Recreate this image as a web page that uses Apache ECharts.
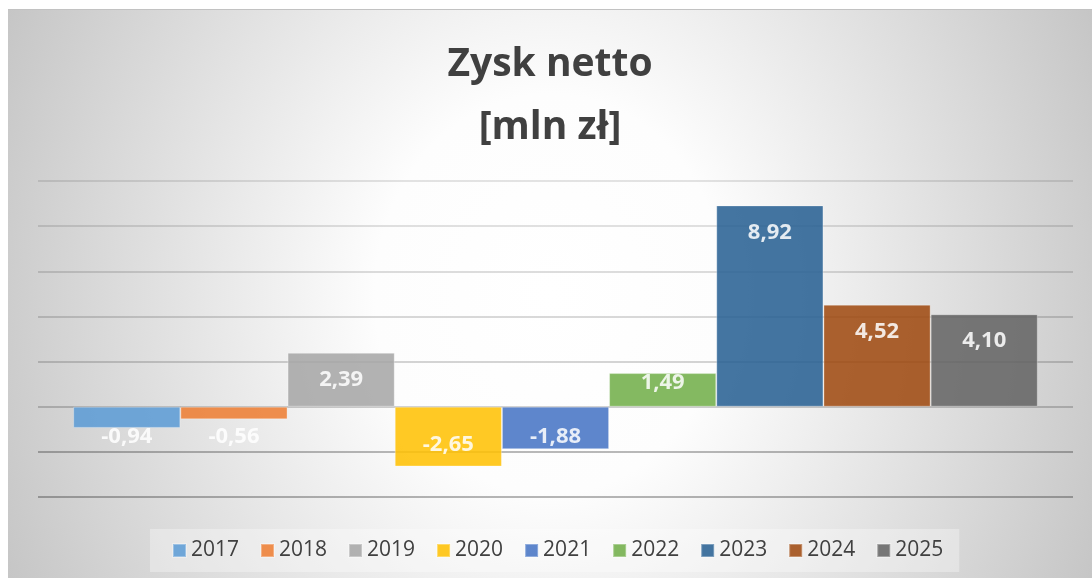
<!DOCTYPE html>
<html>
<head>
<meta charset="utf-8">
<script src="https://cdn.jsdelivr.net/npm/echarts@6/dist/echarts.min.js"></script>
<style>
  html, body { margin: 0; padding: 0; background: #ffffff; width: 1092px; height: 578px; overflow: hidden; }
  #chart {
    position: absolute; left: 8px; top: 9px; width: 1084px; height: 569px;
    background: radial-gradient(ellipse 700px 800px at 50% 50%, #ffffff 0%, #fdfdfd 25%, #c6c6c6 85%, #c0c0c0 100%);
    border-top: 1px solid #c2c2c2; box-sizing: border-box;
  }
</style>
</head>
<body>
<div id="chart"></div>
<script>
const titleText = 'Zysk netto\n[mln zł]';
const years = ['2017', '2018', '2019', '2020', '2021', '2022', '2023', '2024', '2025'];
const values = [-0.94, -0.56, 2.39, -2.65, -1.88, 1.49, 8.92, 4.52, 4.10];
const colors = ['#5B9BD5', '#ED7D31', '#A5A5A5', '#FFC000', '#4472C4', '#70AD47', '#255E91', '#9E480E', '#636363'];
const yMin = -4, yMax = 10, yStep = 2;

const FONT = '"Open Sans", Lato, sans-serif';
const chart = echarts.init(document.getElementById('chart'), null, { renderer: 'canvas' });

function fmt(v) { return v.toFixed(2).replace('.', ','); }

function buildSeries(pxPerUnit) {
  return years.map((y, i) => {
    const v = values[i];
    const h = Math.abs(v) * pxPerUnit;
    let posY;
    if (v >= 0) posY = Math.min(27, h - 24);
    else posY = Math.max(h - 22, 30);
    return {
      name: y,
      type: 'bar',
      barGap: '0%',
      barCategoryGap: '6.8%',
      data: [v],
      itemStyle: { color: colors[i], opacity: 0.86, borderColor: 'rgba(255,255,255,0.35)', borderWidth: 1 },
      label: {
        show: true,
        position: ['50%', posY],
        align: 'center',
        verticalAlign: 'middle',
        formatter: p => fmt(p.value),
        color: '#ffffff',
        fontFamily: FONT,
        fontWeight: 'bold',
        fontSize: 22
      },
      emphasis: { disabled: true }
    };
  });
}

const option = {
  animation: false,
  backgroundColor: 'transparent',
  color: colors,
  title: {
    text: titleText,
    left: 'center',
    top: 23,
    padding: 0,
    textStyle: { fontFamily: FONT, fontWeight: 'bold', fontSize: 39, color: '#404040', lineHeight: 63 }
  },
  legend: {
    data: years,
    left: 142,
    bottom: 6,
    padding: [11, 16, 11, 22],
    itemGap: 21,
    itemWidth: 13,
    itemHeight: 13,
    icon: 'rect',
    backgroundColor: 'rgba(255,255,255,0.32)',
    textStyle: { fontFamily: FONT, fontSize: 21, color: '#404040' }
  },
  grid: { left: 30, right: 19, top: 171, bottom: 81, containLabel: false },
  xAxis: {
    type: 'category',
    data: [''],
    axisLine: { show: false },
    axisTick: { show: false },
    axisLabel: { show: false }
  },
  yAxis: {
    type: 'value',
    min: yMin,
    max: yMax,
    interval: yStep,
    axisLine: { show: false },
    axisTick: { show: false },
    axisLabel: { show: false },
    splitLine: {
      show: true,
      lineStyle: {
        width: 1.6,
        color: ['rgba(0,0,0,0.38)', 'rgba(0,0,0,0.36)', 'rgba(0,0,0,0.25)', 'rgba(0,0,0,0.22)', 'rgba(0,0,0,0.2)', 'rgba(0,0,0,0.18)', 'rgba(0,0,0,0.16)', 'rgba(0,0,0,0.14)']
      }
    }
  },
  series: buildSeries(22.7)
};

chart.setOption(option);
const p0 = chart.convertToPixel({ yAxisIndex: 0 }, 0);
const p1 = chart.convertToPixel({ yAxisIndex: 0 }, 1);
const ppu = Math.abs(p0 - p1);
chart.setOption({ series: buildSeries(ppu) });
</script>
</body>
</html>
